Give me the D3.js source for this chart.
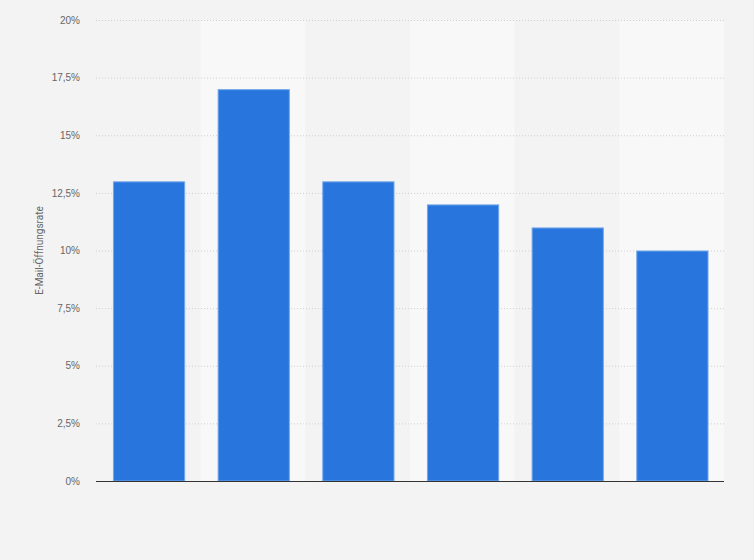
<!DOCTYPE html>
<html>
<head>
  <meta charset="utf-8">
  <script src="https://cdn.jsdelivr.net/npm/d3@7/dist/d3.min.js"></script>
  <style>
    body { margin: 0; background: #f3f3f3; font-family: Roboto, "Noto Sans", sans-serif; }
    svg { display: block; }
  </style>
</head>
<body>
  <main id="container"></main>
  <script>
    // data (categories have no visible labels)
    const categories = ["1", "2", "3", "4", "5", "6"];
    const openRates = [13, 17, 13, 12, 11, 10];
    const yTicks = [0, 2.5, 5, 7.5, 10, 12.5, 15, 17.5, 20];

    const width = 754;
    const height = 560;
    const margin = { top: 20, right: 30, bottom: 79, left: 96 };

    const svg = d3.select("#container")
      .append("svg")
      .attr("width", width)
      .attr("height", height);

    svg.append("rect")
      .attr("width", width)
      .attr("height", height)
      .attr("fill", "#f3f3f3");

    const x = d3.scaleBand()
      .domain(categories)
      .range([margin.left, width - margin.right]);

    const barOffset = x.bandwidth() * 0.162;
    const barWidth = x.bandwidth() * 0.69;

    const y = d3.scaleLinear()
      .domain([0, 20])
      .range([height - margin.bottom, margin.top]);

    // alternating column bands
    svg.append("g")
      .selectAll("rect")
      .data(categories)
      .join("rect")
      .attr("x", d => x(d))
      .attr("y", margin.top)
      .attr("width", x.bandwidth())
      .attr("height", y(0) - margin.top)
      .attr("fill", (d, i) => i % 2 ? "#f8f8f8" : "#f3f3f3");

    // gridlines + tick labels
    const fmt = v => String(v).replace(".", ",") + "%";
    const yAxis = svg.append("g")
      .attr("transform", `translate(${margin.left},0)`)
      .call(d3.axisLeft(y)
        .tickValues(yTicks)
        .tickFormat(fmt)
        .tickSize(-(width - margin.left - margin.right))
        .tickPadding(16));
    yAxis.select(".domain").remove();
    yAxis.selectAll(".tick line")
      .attr("stroke", "#cfcfcf")
      .attr("stroke-dasharray", "1,2");
    yAxis.selectAll(".tick text")
      .attr("fill", "#666")
      .style("font-size", "10px");

    // bars
    svg.append("g")
      .selectAll("rect")
      .data(openRates)
      .join("rect")
      .attr("x", (d, i) => x(categories[i]) + barOffset + 0.5)
      .attr("y", d => y(d) + 0.5)
      .attr("width", barWidth - 1)
      .attr("height", d => y(0) - y(d) - 0.5)
      .attr("fill", "#2876dd")
      .attr("stroke", "#72a7ec")
      .attr("stroke-width", 1);

    // baseline
    svg.append("line")
      .attr("x1", margin.left)
      .attr("x2", width - margin.right)
      .attr("y1", y(0) + 0.5)
      .attr("y2", y(0) + 0.5)
      .attr("stroke", "#333")
      .attr("stroke-width", 1);

    // axis title
    svg.append("text")
      .attr("transform", `translate(43,${(y(0) + margin.top) / 2}) rotate(-90)`)
      .attr("text-anchor", "middle")
      .attr("fill", "#666")
      .style("font-size", "10px")
      .text("E-Mail-Öffnungsrate");
  </script>
</body>
</html>
